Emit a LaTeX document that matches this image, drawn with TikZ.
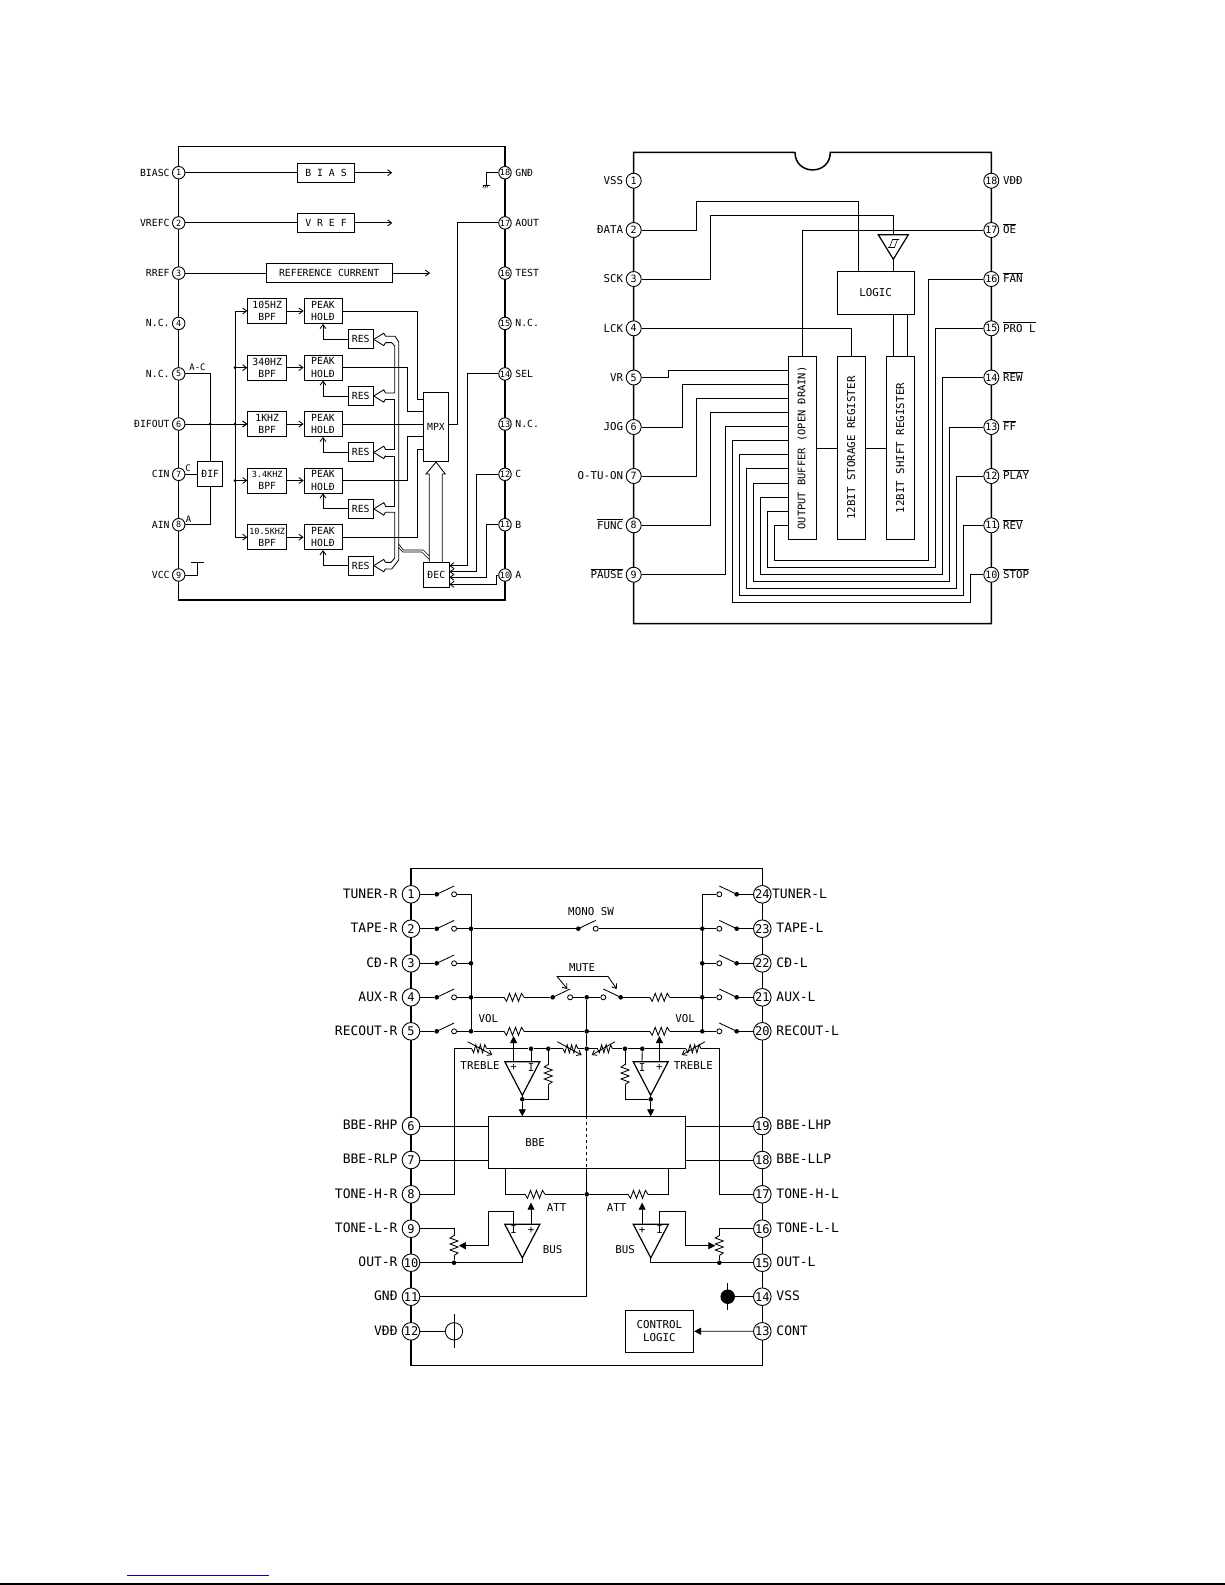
\documentclass[tikz,border=0pt]{standalone}
\usepackage{fontspec}
\setmainfont{DejaVu Sans Mono}
\usetikzlibrary{arrows.meta}

\newcommand{\ovl}[1]{$\overline{\mbox{#1}}$}

\tikzset{
    >={Straight Barb[length=4pt,width=6pt]},
    filledtip/.style={-{Triangle[length=7pt,width=7pt]}},
    chipedge/.style={line width=1.5pt},
    chippin/.style={circle,draw,fill=white,inner sep=0pt,line width=0.9pt,minimum size=#1},
    blockbox/.style={draw,inner sep=0pt,align=center},
    jdot/.style={circle,fill,inner sep=0pt,minimum size=#1},
    jdot/.default=4.6pt,
    opencontact/.style={circle,draw,fill=white,inner sep=0pt,minimum size=5pt},
    inlabel/.style={font=\fontsize{10.8}{12.7}\selectfont},
    swblade/.pic={
        \node[jdot] (-in) at (0,0) {};
        \node[opencontact] (-out) at (17.4,0) {};
        \draw (0,0) -- (17.4,-8.3);
    },
    reswire/.pic={
        \coordinate (-w) at (-10,0);
        \coordinate (-e) at (10,0);
        \draw (-10,0) -- (-7.5,4) -- (-4.5,-4) -- (-1.5,4) -- (1.5,-4) -- (4.5,4) -- (7.5,-4) -- (10,0);
    },
    ampdown/.pic={
        \coordinate (-a) at (-8.7,0);
        \coordinate (-b) at (8.7,0);
        \coordinate (-tip) at (0,33.6);
        \draw[line width=1.2pt] (-17.5,0) -- (17.5,0) -- (0,33.6) -- cycle;
    }
}

\begin{document}
\begin{tikzpicture}[x=1pt, y=-1pt, line width=0.85pt]
    \useasboundingbox (0,0) rectangle (1225,1585);

    % First chip
    \begin{scope}[every node/.style={font=\fontsize{9.8}{12.3}\selectfont}]
        \draw[chipedge] (178.7,146.7) rectangle (505,600);

        % Pins
        \foreach \n/\yy/\lab in {1/172.7/BIASC, 2/222.9/VREFC, 3/273.1/RREF, 4/323.4/N.C., 5/373.9/N.C., 6/424/ÐIFOUT, 7/474.3/CIN, 8/524.7/AIN, 9/575/VCC} {
            \node[chippin=12.5pt,font=\fontsize{8.5}{9}\selectfont] (a\n) at (178.7,\yy) {\makebox[0pt]{\n}};
            \node[anchor=mid east,inner sep=0pt,yshift=-0.8pt] (la\n) at (170,\yy) {\lab};
        }
        \foreach \n/\yy/\lab in {18/172.7/GNÐ, 17/222.9/AOUT, 16/273.1/TEST, 15/323.4/N.C., 14/373.9/SEL, 13/424/N.C., 12/474.3/C, 11/524.7/B, 10/575/A} {
            \node[chippin=12.5pt,font=\fontsize{8.5}{9}\selectfont] (a\n) at (505,\yy) {\makebox[0pt]{\n}};
            \node[anchor=mid west,inner sep=0pt,yshift=-0.8pt] (la\n) at (515,\yy) {\lab};
        }

        % Reference blocks
        \node[blockbox,minimum width=56.6pt,minimum height=19pt] (bias) at (326,172.7) {B I A S};
        \node[blockbox,minimum width=56.6pt,minimum height=19pt] (vref) at (326,222.9) {V R E F};
        \node[blockbox,minimum width=125.7pt,minimum height=19.4pt] (refc) at (329.2,273.1) {REFERENCE CURRENT};
        \coordinate (biasend) at (392.3,172.7);
        \coordinate (vrefend) at (392.3,222.9);
        \coordinate (refcend) at (430,273.1);
        \draw (a1) -- (bias);
        \draw[->] (bias) -- (biasend);
        \draw (a2) -- (vref);
        \draw[->] (vref) -- (vrefend);
        \draw (a3) -- (refc);
        \draw[->] (refc) -- (refcend);

        % Ground and supply
        \draw (a18) -| (486.7,185);
        \draw (482.7,185) -- (489.5,185);
        \foreach \xx in {484,486,488} \draw[line width=0.6pt] (\xx,185) -- (\xx-1.2,188);
        \coordinate (vcctop) at (197.7,562.3);
        \draw (a9) -| (vcctop);
        \draw (191,562.3) -- (204,562.3);

        % Filters
        \foreach \k/\yy/\lab in {1/311/105HZ, 2/367.6/340HZ, 3/424/1KHZ, 4/480.5/{\fontsize{8.5}{12.3}\selectfont 3.4KHZ}, 5/537.2/{\fontsize{8.5}{12.3}\selectfont 10.5KHZ}} {
            \node[blockbox,minimum width=39pt,minimum height=25pt] (bpf\k) at (267.2,\yy) {\lab\\BPF};
            \node[blockbox,minimum width=38pt,minimum height=25pt] (ph\k) at (323,\yy) {PEAK\\HOLÐ};
            \node[blockbox,minimum width=25.3pt,minimum height=19pt] (res\k) at (360.7,\yy+28.4) {RES};
            \coordinate (bus\k) at (235,\yy);
            \draw[->] (bus\k) -- (bpf\k);
            \draw[->] (bpf\k) -- (ph\k);
            \draw[->] (res\k.west) -| (ph\k.south);
            % hollow head
            \draw (res\k.east) -- ++(10,-6.2) -- ++(1.7,3);
            \draw (res\k.east) -- ++(10,6.2) -- ++(1.7,-3);
        }
        \draw (bus1) -- (bus5);
        \foreach \k in {2,3,4} \node[jdot=3pt] (busj\k) at (bus\k) {};

        \node[blockbox,minimum width=25.4pt,minimum height=69.4pt] (mpx) at (436,427) {MPX};
        \node[blockbox,minimum width=25.3pt,minimum height=25pt] (dec) at (436.3,574.8) {ÐEC};
        \node[blockbox,minimum width=25pt,minimum height=25pt] (dif) at (210.2,474.3) {ÐIF};

        % Input side
        \draw (a5) -| (dif.north);
        \draw (dif.south) |- (a8);
        \draw (a7) -- (dif);
        \node[jdot=3pt] (difj) at (210.2,424) {};
        \draw[->] (a6) -- (bpf3);
        \node[font=\fontsize{9}{9}\selectfont,inner sep=0pt] (lac) at (197.5,367) {A-C};
        \node[font=\fontsize{9}{9}\selectfont,inner sep=0pt] (lc) at (188,468) {C};
        \node[font=\fontsize{9}{9}\selectfont,inner sep=0pt] (lca) at (188.5,519) {A};

        % Peak hold to MPX
        \draw (ph1) -| (417.3,399) -- (mpx.west |- 0,399);
        \draw (ph2) -| (407.7,411) -- (mpx.west |- 0,411);
        \draw (ph3) -- (mpx.west |- 0,424);
        \draw (ph4) -| (407.7,436) -- (mpx.west |- 0,436);
        \draw (ph5) -| (417.3,449) -- (mpx.west |- 0,449);
        \draw (mpx.east |- 0,424) -| (457.3,222.9) -- (a17);

        % Double bus to the RES blocks
        \draw (385.4,336.2) -- (395,336.2) -- (398.7,341.7) -- (398.7,560) -- (391.7,569) -- (385.4,569);
        \draw (385.4,342.6) -- (391.7,342.6) -- (394.7,346) -- (394.7,393) -- (385.4,393);
        \draw (385.4,399) -- (394.7,399) -- (394.7,449.3) -- (385.4,449.3);
        \draw (385.4,456) -- (394.7,456) -- (394.7,506) -- (385.4,506);
        \draw (385.4,512.3) -- (394.7,512.3) -- (394.7,558) -- (391,562.4) -- (385.4,562.4);
        \draw[line width=0.6pt] (398.7,544) -- (403.3,550) -- (423.3,550) -- (429.3,556);
        \draw[line width=0.6pt] (398.7,547.5) -- (402.7,552) -- (421.7,552) -- (429.3,559.5);

        % DEC
        \draw (dec.north -| 429.3,0) -- (429.3,474) -- (426,474) -- (mpx.south) -- (445.3,474) -- (442.3,474) -- (dec.north -| 442.3,0);
        \draw[->] (a14) -| (467.7,565.7) -- (dec.east |- 0,565.7);
        \draw[->] (a12) -| (476.7,571.7) -- (dec.east |- 0,571.7);
        \draw[->] (a11) -| (486.7,577.3) -- (dec.east |- 0,577.3);
        \draw[->] (a10) -| (496,584.3) -- (dec.east |- 0,584.3);
    \end{scope}

    % Second chip
    \begin{scope}[every node/.style={font=\fontsize{10.8}{12.7}\selectfont}]
        \draw[chipedge] (795,152.3) -- (633.7,152.3) -- (633.7,623.7) -- (991.3,623.7) -- (991.3,152.3) -- (830.3,152.3) .. controls (830.3,175.8) and (795,175.8) .. (795,152.3);

        % Pins
        \foreach \n/\yy/\lab in {1/180.7/VSS, 2/230/ÐATA, 3/279/SCK, 4/328.3/LCK, 5/377.5/VR, 6/427/JOG, 7/476/O-TU-ON, 8/525.3/\ovl{FUNC}, 9/574.7/\ovl{PAUSE}} {
            \node[chippin=15pt,font=\fontsize{10}{10.5}\selectfont] (b\n) at (633.7,\yy) {\makebox[0pt]{\n}};
            \node[anchor=mid east,inner sep=0pt,yshift=-1pt] (lb\n) at (623.5,\yy) {\lab};
        }
        \foreach \n/\yy/\lab in {18/180.7/VÐÐ, 17/230/\ovl{OE}, 16/279/\ovl{FAN}, 15/328.3/\ovl{PRO L}, 14/377.5/\ovl{REW}, 13/427/\ovl{FF}, 12/476/\ovl{PLAY}, 11/525.3/\ovl{REV}, 10/574.7/\ovl{STOP}} {
            \node[chippin=15pt,font=\fontsize{10}{10.5}\selectfont] (b\n) at (991.3,\yy) {\makebox[0pt]{\n}};
            \node[anchor=mid west,inner sep=0pt,yshift=-1pt] (lb\n) at (1002.7,\yy) {\lab};
        }

        % Blocks
        \node[blockbox,minimum width=77.3pt,minimum height=42.3pt] (logic) at (875.7,292.9) {LOGIC};
        \node[blockbox,minimum width=27.7pt,minimum height=182.6pt,font=\fontsize{10.4}{12}\selectfont] (ob) at (802.15,448) {\rotatebox{90}{OUTPUT BUFFER (OPEN ÐRAIN)}};
        \node[blockbox,minimum width=28.3pt,minimum height=182.6pt] (storage) at (851.15,448) {\rotatebox{90}{12BIT STORAGE REGISTER}};
        \node[blockbox,minimum width=28pt,minimum height=182.6pt] (shift) at (900.3,448) {\rotatebox{90}{12BIT SHIFT REGISTER}};
        \draw (ob) -- (storage);
        \draw (storage) -- (shift);
        \draw (logic.south -| 893.3,0) -- (shift.north -| 893.3,0);
        \draw (logic.south -| 907.3,0) -- (shift.north -| 907.3,0);

        % Schmitt buffer
        \coordinate (trgtop) at (893.3,234.7);
        \coordinate (trgapex) at (893.3,259.3);
        \draw[line width=1.2pt] (878.3,234.7) -- (908.3,234.7) -- (trgapex) -- cycle;
        \draw[line width=0.6pt] (888,247.5) -- (894.5,247.5) -- (897.5,239.5);
        \draw[line width=0.6pt] (889.5,247.5) -- (892.5,239.5) -- (899,239.5);
        \draw (trgapex) -- (logic.north -| trgapex);

        % Control lines
        \draw (b2) -| (696.7,201.7) -| (logic.north -| 858.3,0);
        \draw (b3) -| (710.7,215.3) -| (trgtop);
        \draw (b17) -| (ob.north);
        \draw (b4) -| (storage.north);

        % Outputs on the left
        \foreach \n/\xx/\yy in {5/668.7/370, 6/682.7/384.3, 7/696.7/398.3, 8/710.7/412.3, 9/725/426.7}
            \draw (b\n) -| (\xx,\yy) -- (ob.west |- 0,\yy);

        % Outputs on the right
        \foreach \n/\xx/\yy/\xb/\yb in {16/928.7/560.3/774/525.3, 15/935.7/567.3/767/511.3, 14/942.7/574.3/760/497, 13/949.7/581.3/753/483, 12/956.7/588.7/746/468.7, 11/963.3/595.7/739/454.7, 10/970.3/602.7/732/440.7}
            \draw (b\n) -| (\xx,\yy) -| (\xb,\yb) -- (ob.west |- 0,\yb);
    \end{scope}

    % Third chip
    \begin{scope}[every node/.style={font=\fontsize{13}{15}\selectfont}]
        \draw[chipedge] (411,868.7) rectangle (762.3,1365.7);

        % Pins
        \foreach \n/\yy/\lab in {1/894.3/TUNER-R, 2/928.7/TAPE-R, 3/963.3/CÐ-R, 4/997.3/AUX-R, 5/1031.3/RECOUT-R, 6/1126/BBE-RHP, 7/1160/BBE-RLP, 8/1194.3/TONE-H-R, 9/1228.7/TONE-L-R, 10/1262.7/OUT-R, 11/1296.7/GNÐ, 12/1331.3/VÐÐ} {
            \node[chippin=17.6pt,font=\fontsize{12}{13}\selectfont] (c\n) at (411,\yy) {\makebox[0pt]{\n}};
            \node[anchor=mid east,inner sep=0pt,yshift=-1.2pt] (lc\n) at (398,\yy) {\lab};
        }
        \foreach \n/\yy/\lab in {23/928.7/TAPE-L, 22/963.3/CÐ-L, 21/997.3/AUX-L, 20/1031.3/RECOUT-L, 19/1126/BBE-LHP, 18/1160/BBE-LLP, 17/1194.3/TONE-H-L, 16/1228.7/TONE-L-L, 15/1262.7/OUT-L, 14/1296.7/VSS, 13/1331.3/CONT} {
            \node[chippin=17.6pt,font=\fontsize{12}{13}\selectfont] (c\n) at (762.3,\yy) {\makebox[0pt]{\n}};
            \node[anchor=mid west,inner sep=0pt,yshift=-1.2pt] (lc\n) at (776,\yy) {\lab};
        }
        \node[chippin=17.6pt,font=\fontsize{12}{13}\selectfont] (c24) at (762.3,894.3) {\makebox[0pt]{24}};
        \node[anchor=mid west,inner sep=0pt,yshift=-1.2pt] (lc24) at (771.7,894.3) {TUNER-L};

        % Input switches
        \foreach \n/\m/\yy in {1/24/894.3, 2/23/928.7, 3/22/963.3, 4/21/997.3, 5/20/1031.3} {
            \coordinate (busl\n) at (471,\yy);
            \coordinate (busr\n) at (702.3,\yy);
            \pic (swl\n) at (436.7,\yy) {swblade};
            \pic[xscale=-1] (swr\n) at (736.7,\yy) {swblade};
            \draw (c\n) -- (swl\n-in);
            \draw (swl\n-out) -- (busl\n);
            \draw (c\m) -- (swr\n-in);
            \draw (swr\n-out) -- (busr\n);
        }
        \draw (busl1) -- (busl5);
        \draw (busr1) -- (busr5);
        \foreach \n in {2,3,4,5} {
            \node[jdot] (jl\n) at (busl\n) {};
            \node[jdot] (jr\n) at (busr\n) {};
        }

        % Mono switch
        \pic (swmono) at (578.3,928.7) {swblade};
        \draw (jl2) -- (swmono-in);
        \draw (swmono-out) -- (jr2);
        \node[inlabel] (lmono) at (591,911.7) {MONO SW};

        % Centre line
        \node[jdot] (ctr4) at (586.7,997.3) {};
        \node[jdot] (ctr5) at (586.7,1031.3) {};
        \node[jdot] (ctr6) at (586.7,1048.7) {};
        \node[jdot] (ctr7) at (586.7,1194.3) {};
        \node[blockbox,minimum width=197pt,minimum height=51.6pt] (bbe) at (586.5,1142.5) {};
        \node[inlabel] (lbbe) at (535,1142.7) {BBE};
        \draw (ctr4) -- (ctr5) -- (ctr6) -- (bbe.north -| ctr6);
        \draw[dashed] (bbe.north -| ctr6) -- (bbe.south -| ctr6);
        \draw (bbe.south -| ctr6) -- (ctr7);
        \draw (ctr7) -- (586.7,1296.7) -- (c11);

        % Mute
        \pic (swmutel) at (552.7,997.3) {swblade};
        \pic[xscale=-1] (swmuter) at (620.7,997.3) {swblade};
        \pic (raux1) at (514,997.3) {reswire};
        \pic (raux2) at (659.7,997.3) {reswire};
        \draw (jl4) -- (raux1-w);
        \draw (raux1-e) -- (swmutel-in);
        \draw (swmutel-out) -- (ctr4);
        \draw (ctr4) -- (swmuter-out);
        \draw (swmuter-in) -- (raux2-w);
        \draw (raux2-e) -- (jr4);
        \draw[->] (556.7,976) -- (567.3,989);
        \draw[->] (607.7,976) -- (616.7,989);
        \draw (556.7,976) -- (607.7,976);
        \node[inlabel] (lmute) at (582,967.3) {MUTE};

        % Volume
        \pic (rvol1) at (514,1031.3) {reswire};
        \pic (rvol2) at (659.7,1031.3) {reswire};
        \draw (jl5) -- (rvol1-w);
        \draw (rvol1-e) -- (ctr5);
        \draw (ctr5) -- (rvol2-w);
        \draw (rvol2-e) -- (jr5);
        \node[inlabel] (lvol1) at (488.3,1019) {VOL};
        \node[inlabel] (lvol2) at (685,1019) {VOL};

        % Treble
        \pic[xscale=0.75] (rtr1) at (479.2,1048.7) {reswire};
        \pic[xscale=0.75] (rtr2) at (570.5,1048.7) {reswire};
        \pic[xscale=0.75] (rtr3) at (605,1048.7) {reswire};
        \pic[xscale=0.75] (rtr4) at (693.5,1048.7) {reswire};
        \draw[->] (467.7,1041.7) -- (492.3,1055);
        \draw[->] (557.3,1041.7) -- (581.7,1055);
        \draw[->] (615,1041.7) -- (591.7,1055);
        \draw[->] (705,1041.7) -- (681.7,1055);
        \node[jdot] (tdot1) at (531,1048.7) {};
        \node[jdot] (tdot2) at (548.3,1048.7) {};
        \node[jdot] (tdot3) at (625,1048.7) {};
        \node[jdot] (tdot4) at (642.3,1048.7) {};
        \coordinate (trl) at (454,1048.7);
        \coordinate (trr) at (719,1048.7);
        \draw (c8) -| (trl) -- (rtr1-w);
        \draw (rtr1-e) -- (tdot1) -- (tdot2) -- (rtr2-w);
        \draw (rtr2-e) -- (ctr6) -- (rtr3-w);
        \draw (rtr3-e) -- (tdot3) -- (tdot4) -- (rtr4-w);
        \draw (c17) -| (trr) -- (rtr4-e);
        \node[inlabel] (ltr1) at (480,1066) {TREBLE};
        \node[inlabel] (ltr2) at (693.3,1066) {TREBLE};

        % Tone amplifiers
        \pic (amp1) at (522.3,1061.7) {ampdown};
        \pic (amp2) at (650.7,1061.7) {ampdown};
        \node[inlabel] (amp1p) at (513.6,1067.5) {+};
        \node[inlabel] (amp1m) at (531,1067.5) {I};
        \node[inlabel] (amp2m) at (642,1067.5) {I};
        \node[inlabel] (amp2p) at (659.4,1067.5) {+};
        \draw (tdot1) -- (amp1-b);
        \draw (tdot4) -- (amp2-a);
        \draw[filledtip] (amp1-a) -- (513.6,1036);
        \draw[filledtip] (amp2-b) -- (659.4,1036);
        \node[jdot] (adot1) at (522.3,1099.3) {};
        \node[jdot] (adot2) at (650.7,1099.3) {};
        \draw (amp1-tip) -- (adot1);
        \draw (amp2-tip) -- (adot2);
        \draw[filledtip] (adot1) -- (bbe.north -| adot1);
        \draw[filledtip] (adot2) -- (bbe.north -| adot2);
        \pic[rotate=90] (rfb1) at (548.3,1074.5) {reswire};
        \pic[rotate=90] (rfb2) at (625,1074.5) {reswire};
        \draw (tdot2) -- (rfb1-e);
        \draw (rfb1-w) |- (adot1);
        \draw (tdot3) -- (rfb2-e);
        \draw (rfb2-w) |- (adot2);

        % BBE pins
        \draw (c6) -- (bbe.west |- c6);
        \draw (c7) -- (bbe.west |- c7);
        \draw (c19) -- (bbe.east |- c19);
        \draw (c18) -- (bbe.east |- c18);

        % Attenuators
        \pic (ratt1) at (535,1194.3) {reswire};
        \pic (ratt2) at (638,1194.3) {reswire};
        \draw (bbe.south -| 505,0) |- (ratt1-w);
        \draw (ratt1-e) -- (ctr7);
        \draw (ctr7) -- (ratt2-w);
        \draw (ratt2-e) -| (bbe.south -| 668.3,0);
        \node[inlabel] (latt1) at (556.7,1207.3) {ATT};
        \node[inlabel] (latt2) at (616.7,1207.3) {ATT};

        % Bus amplifiers
        \pic (amp3) at (522.3,1224.3) {ampdown};
        \pic (amp4) at (650.8,1224.3) {ampdown};
        \node[inlabel] (amp3m) at (513.6,1230) {I};
        \node[inlabel] (amp3p) at (531,1230) {+};
        \node[inlabel] (amp4p) at (642.1,1230) {+};
        \node[inlabel] (amp4m) at (659.5,1230) {I};
        \draw[filledtip] (amp3-b) -- (531,1202.7);
        \draw[filledtip] (amp4-a) -- (642.1,1202.7);
        \node[inlabel] (lbus1) at (552.7,1250) {BUS};
        \node[inlabel] (lbus2) at (625,1250) {BUS};
        \pic[rotate=90] (pot1) at (454,1245.5) {reswire};
        \pic[rotate=90] (pot2) at (719.3,1245.5) {reswire};
        \node[jdot] (pdot1) at (454,1262.7) {};
        \node[jdot] (pdot2) at (719.3,1262.7) {};
        \draw (c9) -| (pot1-e);
        \draw (pot1-w) -- (pdot1);
        \draw (c16) -| (pot2-e);
        \draw (pot2-w) -- (pdot2);
        \draw (c10) -| (amp3-tip);
        \draw (c15) -| (amp4-tip);
        \draw[filledtip] (amp3-a) |- (488,1211.7) |- (458.8,1245.7);
        \draw[filledtip] (amp4-b) |- (685,1211.7) |- (715.3,1245.7);

        % Supply symbols
        \node[circle,draw,inner sep=0pt,minimum size=17.4pt] (vddsym) at (454,1331.3) {};
        \draw (c12) -- (vddsym);
        \draw (454,1314) -- (454,1348.3);
        \node[jdot=14.5pt] (vsssym) at (727.7,1296.7) {};
        \draw (c14) -- (vsssym);
        \draw (727.7,1283) -- (727.7,1310);

        % Control
        \node[blockbox,inlabel,minimum width=68.7pt,minimum height=42.3pt] (ctl) at (659.3,1331.2) {CONTROL\\LOGIC};
        \draw[filledtip] (c13) -- (ctl);
    \end{scope}

    % Page rules
    \draw[color={rgb,255:red,0;green,0;blue,204}] (127,1575) -- (268.7,1575);
    \draw[line width=1.2pt] (0,1584) -- (1225,1584);
\end{tikzpicture}
\end{document}
